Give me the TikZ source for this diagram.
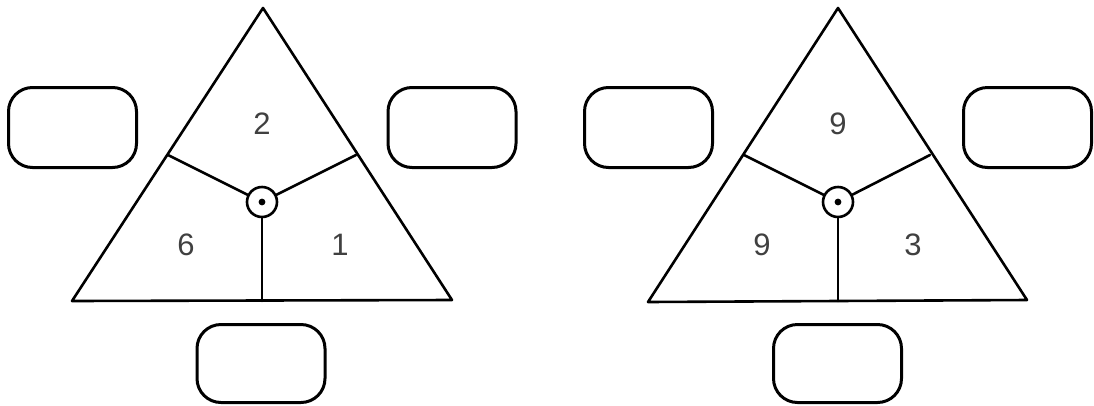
\documentclass[tikz,border=0pt]{standalone}
\usepackage{fontspec}
\setmainfont{Liberation Sans}

\begin{document}
\begin{tikzpicture}[x=1pt,y=-1pt,line cap=round,line join=round,
  side/.style={line width=2.6pt},
  hub/.style={circle,draw,line width=2.6pt,minimum size=30pt,inner sep=0pt},
  blank/.style={draw,line width=3pt,rounded corners=24pt,minimum width=128pt,minimum height=80pt},
  num/.style={text=black!75,font=\fontsize{31}{34}\selectfont}]
  \useasboundingbox (0,0) rectangle (1094,405);
  % left triangle
  \coordinate (A1) at (263,8);
  \coordinate (L1) at (72,301);
  \coordinate (R1) at (452,300);
  \coordinate (JL1) at (168,155);
  \coordinate (JR1) at (356,155);
  \coordinate (JB1) at (262,301);
  \draw[side] (A1) -- (R1) -- (L1) -- cycle;
  \node[hub] (C1) at (262,202) {};
  \fill (C1) circle (3.4);
  \draw[side] (C1) -- (JL1);
  \draw[side] (C1) -- (JR1);
  \draw[side] (C1) -- (JB1);
  \node[num] (top1) at (262,124) {2};
  \node[num] (lft1) at (186,245) {6};
  \node[num] (rgt1) at (340,245) {1};
  % right triangle
  \coordinate (A2) at (838,8);
  \coordinate (L2) at (648,302);
  \coordinate (R2) at (1027,300);
  \coordinate (JL2) at (744,155);
  \coordinate (JR2) at (930,155);
  \coordinate (JB2) at (838,301);
  \draw[side] (A2) -- (R2) -- (L2) -- cycle;
  \node[hub] (C2) at (838,202) {};
  \fill (C2) circle (3.4);
  \draw[side] (C2) -- (JL2);
  \draw[side] (C2) -- (JR2);
  \draw[side] (C2) -- (JB2);
  \node[num] (top2) at (838,124) {9};
  \node[num] (lft2) at (762,245) {9};
  \node[num] (rgt2) at (913,245) {3};
  % answer boxes
  \node[blank] (boxL1) at (72.5,127.5) {};
  \node[blank] (boxR1) at (452,127.5) {};
  \node[blank,minimum height=78pt] (boxB1) at (261,363.5) {};
  \node[blank] (boxL2) at (648.5,127.5) {};
  \node[blank] (boxR2) at (1027.5,127.5) {};
  \node[blank,minimum height=78pt] (boxB2) at (837.5,363.5) {};
\end{tikzpicture}
\end{document}
